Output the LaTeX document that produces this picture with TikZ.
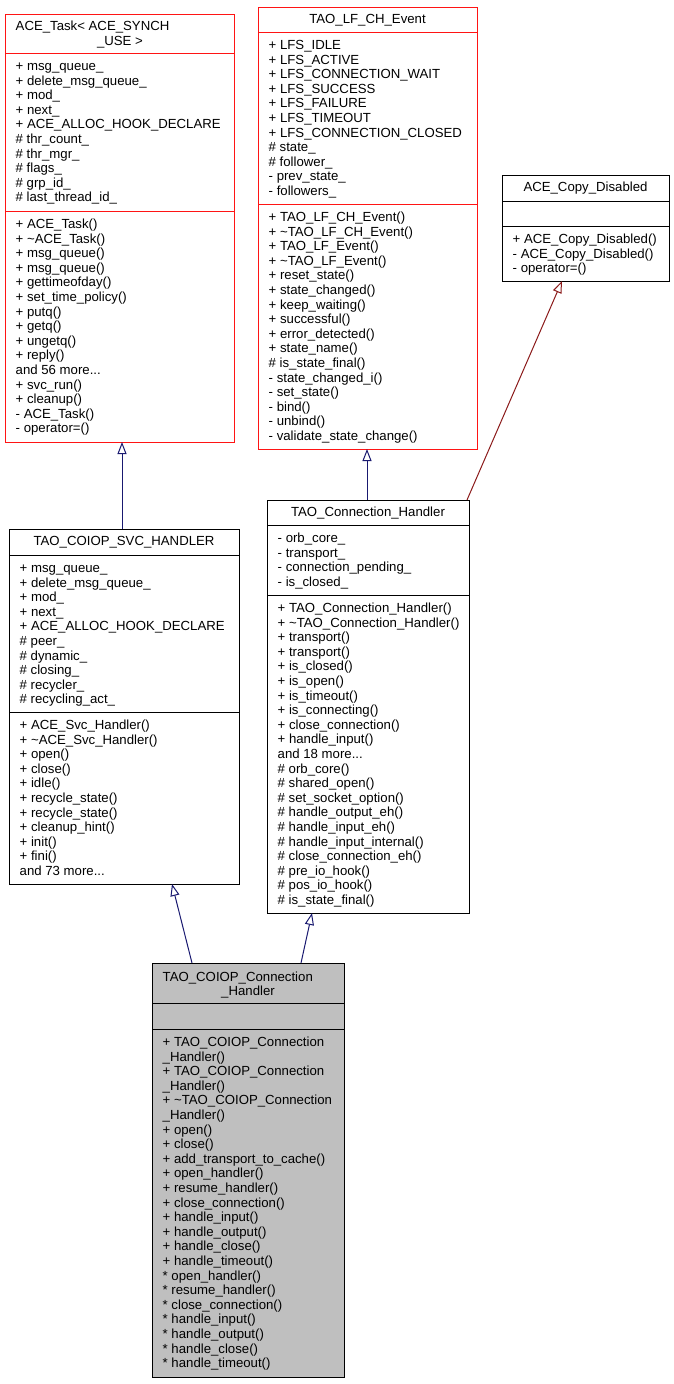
\documentclass[tikz,border=0pt]{standalone}
\usepackage{fontspec}
\setmainfont{Liberation Sans}
\usetikzlibrary{arrows.meta}
\definecolor{trunc}{RGB}{255,20,20}
\definecolor{pubinh}{RGB}{25,25,112}
\definecolor{privinh}{RGB}{139,26,26}
\definecolor{cur}{RGB}{191,191,191}
\newcommand\firststrut{\rule{0pt}{11pt}}
\begin{document}
\begin{tikzpicture}[x=1pt,y=-1pt,
  box/.style={draw, line width=1pt, inner sep=0pt, outer sep=0pt, anchor=north west},
  sep/.style={line width=1pt},
  txt/.style={inner sep=0pt, anchor=north west, align=left, font=\fontsize{13.2}{14.6}\selectfont},
  ttl/.style={inner sep=0pt, anchor=base, font=\fontsize{13.2}{14.6}\selectfont},
  inh/.style={line width=1pt, -{Triangle[open, length=12pt, width=9pt, fill=white]}},
]
\useasboundingbox (0,0) rectangle (673,1384);

% ---------- ACE_Task ----------
\node[box, draw=trunc, minimum width=229pt, minimum height=428pt] (task) at (5,14) {};
\draw[sep, trunc] (task.west |- 0,53) -- (task.east |- 0,53);
\draw[sep, trunc] (task.west |- 0,211) -- (task.east |- 0,211);
\node[ttl, anchor=base west] (taskt1) at (15.5,30.7) {ACE\_Task< ACE\_SYNCH};
\node[ttl] (taskt2) at (120,45.3) {\_USE >};
\node[txt] (taska) at (15.5,59.3) {\firststrut + msg\_queue\_\\
+ delete\_msg\_queue\_\\
+ mod\_\\
+ next\_\\
+ ACE\_ALLOC\_HOOK\_DECLARE\\
\# thr\_count\_\\
\# thr\_mgr\_\\
\# flags\_\\
\# grp\_id\_\\
\# last\_thread\_id\_};
\node[txt] (taskm) at (15.5,217.3) {\firststrut + ACE\_Task()\\
+ \textasciitilde ACE\_Task()\\
+ msg\_queue()\\
+ msg\_queue()\\
+ gettimeofday()\\
+ set\_time\_policy()\\
+ putq()\\
+ getq()\\
+ ungetq()\\
+ reply()\\
and 56 more...\\
+ svc\_run()\\
+ cleanup()\\
- ACE\_Task()\\
- operator=()};

% ---------- TAO_LF_CH_Event ----------
\node[box, draw=trunc, minimum width=219pt, minimum height=442pt] (lfch) at (258,7) {};
\draw[sep, trunc] (lfch.west |- 0,32) -- (lfch.east |- 0,32);
\draw[sep, trunc] (lfch.west |- 0,204) -- (lfch.east |- 0,204);
\node[ttl] (lfcht) at (367.5,23.8) {TAO\_LF\_CH\_Event};
\node[txt] (lfcha) at (268.5,38.3) {\firststrut + LFS\_IDLE\\
+ LFS\_ACTIVE\\
+ LFS\_CONNECTION\_WAIT\\
+ LFS\_SUCCESS\\
+ LFS\_FAILURE\\
+ LFS\_TIMEOUT\\
+ LFS\_CONNECTION\_CLOSED\\
\# state\_\\
\# follower\_\\
- prev\_state\_\\
- followers\_};
\node[txt] (lfchm) at (268.5,210.3) {\firststrut + TAO\_LF\_CH\_Event()\\
+ \textasciitilde TAO\_LF\_CH\_Event()\\
+ TAO\_LF\_Event()\\
+ \textasciitilde TAO\_LF\_Event()\\
+ reset\_state()\\
+ state\_changed()\\
+ keep\_waiting()\\
+ successful()\\
+ error\_detected()\\
+ state\_name()\\
\# is\_state\_final()\\
- state\_changed\_i()\\
- set\_state()\\
- bind()\\
- unbind()\\
- validate\_state\_change()};

% ---------- ACE_Copy_Disabled ----------
\node[box, minimum width=167pt, minimum height=106pt] (copy) at (502,175) {};
\draw[sep] (copy.west |- 0,201) -- (copy.east |- 0,201);
\draw[sep] (copy.west |- 0,226) -- (copy.east |- 0,226);
\node[ttl] (copyt) at (585.5,191.8) {ACE\_Copy\_Disabled};
\node[txt] (copym) at (512.5,232.3) {\firststrut + ACE\_Copy\_Disabled()\\
- ACE\_Copy\_Disabled()\\
- operator=()};

% ---------- TAO_COIOP_SVC_HANDLER ----------
\node[box, minimum width=230pt, minimum height=355pt] (svc) at (9,529) {};
\draw[sep] (svc.west |- 0,555) -- (svc.east |- 0,555);
\draw[sep] (svc.west |- 0,712) -- (svc.east |- 0,712);
\node[ttl] (svct) at (124,545.8) {TAO\_COIOP\_SVC\_HANDLER};
\node[txt] (svca) at (19.5,561.3) {\firststrut + msg\_queue\_\\
+ delete\_msg\_queue\_\\
+ mod\_\\
+ next\_\\
+ ACE\_ALLOC\_HOOK\_DECLARE\\
\# peer\_\\
\# dynamic\_\\
\# closing\_\\
\# recycler\_\\
\# recycling\_act\_};
\node[txt] (svcm) at (19.5,718.3) {\firststrut + ACE\_Svc\_Handler()\\
+ \textasciitilde ACE\_Svc\_Handler()\\
+ open()\\
+ close()\\
+ idle()\\
+ recycle\_state()\\
+ recycle\_state()\\
+ cleanup\_hint()\\
+ init()\\
+ fini()\\
and 73 more...};

% ---------- TAO_Connection_Handler ----------
\node[box, minimum width=202pt, minimum height=413pt] (conn) at (267,500) {};
\draw[sep] (conn.west |- 0,525) -- (conn.east |- 0,525);
\draw[sep] (conn.west |- 0,595) -- (conn.east |- 0,595);
\node[ttl] (connt) at (368,516.8) {TAO\_Connection\_Handler};
\node[txt] (conna) at (277.5,531.3) {\firststrut - orb\_core\_\\
- transport\_\\
- connection\_pending\_\\
- is\_closed\_};
\node[txt] (connm) at (277.5,601.3) {\firststrut + TAO\_Connection\_Handler()\\
+ \textasciitilde TAO\_Connection\_Handler()\\
+ transport()\\
+ transport()\\
+ is\_closed()\\
+ is\_open()\\
+ is\_timeout()\\
+ is\_connecting()\\
+ close\_connection()\\
+ handle\_input()\\
and 18 more...\\
\# orb\_core()\\
\# shared\_open()\\
\# set\_socket\_option()\\
\# handle\_output\_eh()\\
\# handle\_input\_eh()\\
\# handle\_input\_internal()\\
\# close\_connection\_eh()\\
\# pre\_io\_hook()\\
\# pos\_io\_hook()\\
\# is\_state\_final()};

% ---------- TAO_COIOP_Connection_Handler ----------
\node[box, fill=cur, minimum width=192pt, minimum height=414pt] (coiop) at (152,963) {};
\draw[sep] (coiop.west |- 0,1003) -- (coiop.east |- 0,1003);
\draw[sep] (coiop.west |- 0,1029) -- (coiop.east |- 0,1029);
\node[ttl, anchor=base west] (coiopt1) at (162.5,981.3) {TAO\_COIOP\_Connection};
\node[ttl] (coiopt2) at (248,995.9) {\_Handler};
\node[txt] (coiopm) at (162.5,1035.3) {\firststrut + TAO\_COIOP\_Connection\\
\_Handler()\\
+ TAO\_COIOP\_Connection\\
\_Handler()\\
+ \textasciitilde TAO\_COIOP\_Connection\\
\_Handler()\\
+ open()\\
+ close()\\
+ add\_transport\_to\_cache()\\
+ open\_handler()\\
+ resume\_handler()\\
+ close\_connection()\\
+ handle\_input()\\
+ handle\_output()\\
+ handle\_close()\\
+ handle\_timeout()\\
* open\_handler()\\
* resume\_handler()\\
* close\_connection()\\
* handle\_input()\\
* handle\_output()\\
* handle\_close()\\
* handle\_timeout()};

% ---------- inheritance ----------
\draw[inh, pubinh] ([xshift=-2pt]svc.north) -- ([xshift=2.5pt]task.south);
\draw[inh, pubinh] ([xshift=-1pt]conn.north) -- ([xshift=-0.5pt]lfch.south);
\draw[inh, privinh] ([xshift=-2pt]conn.north east) -- ([xshift=-23.5pt]copy.south);
\draw[inh, pubinh] ([xshift=-56pt]coiop.north) -- ([xshift=48pt]svc.south);
\draw[inh, pubinh] ([xshift=53pt]coiop.north) -- ([xshift=-56pt]conn.south);
\end{tikzpicture}
\end{document}
